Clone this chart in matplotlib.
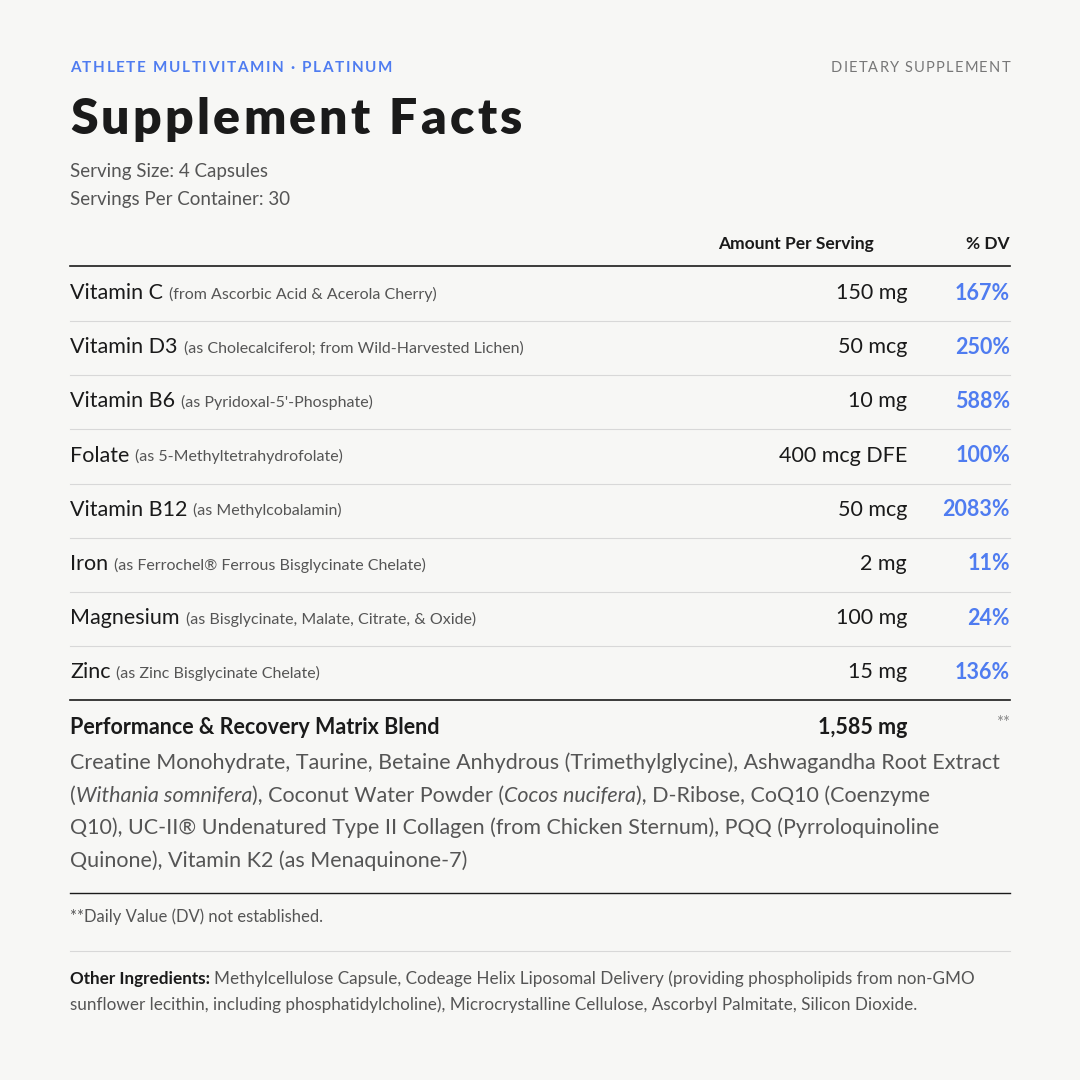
import matplotlib
matplotlib.use("Agg")
import matplotlib.pyplot as plt
from matplotlib.lines import Line2D

names = ["Vitamin C", "Vitamin D3", "Vitamin B6", "Folate", "Vitamin B12", "Iron", "Magnesium", "Zinc"]
sources = ["(from Ascorbic Acid & Acerola Cherry)", "(as Cholecalciferol; from Wild-Harvested Lichen)",
           "(as Pyridoxal-5'-Phosphate)", "(as 5-Methyltetrahydrofolate)", "(as Methylcobalamin)",
           "(as Ferrochel® Ferrous Bisglycinate Chelate)", "(as Bisglycinate, Malate, Citrate, & Oxide)",
           "(as Zinc Bisglycinate Chelate)"]
amounts = ["150 mg", "50 mcg", "10 mg", "400 mcg DFE", "50 mcg", "2 mg", "100 mg", "15 mg"]
dv = ["167%", "250%", "588%", "100%", "2083%", "11%", "24%", "136%"]
blend_name = "Performance & Recovery Matrix Blend"
blend_amount = "1,585 mg"
blend_lines = [
    [("Creatine Monohydrate, Taurine, Betaine Anhydrous (Trimethylglycine), Ashwagandha Root Extract", "normal")],
    [("(", "normal"), ("Withania somnifera", "italic"), ("), Coconut Water Powder (", "normal"), ("Cocos nucifera", "italic"), ("), D-Ribose, CoQ10 (Coenzyme", "normal")],
    [("Q10), UC-II® Undenatured Type II Collagen (from Chicken Sternum), PQQ (Pyrroloquinoline", "normal")],
    [("Quinone), Vitamin K2 (as Menaquinone-7)", "normal")],
]

BG = "#f7f7f5"; DARK = "#1a1a1a"; GRAY = "#555555"; BLUE = "#4f7cf0"; LINE = "#d8d8d8"
FONT = "Lato"
W = H = 1080
fig = plt.figure(figsize=(10.8, 10.8), dpi=100, facecolor=BG)
r = fig.canvas.get_renderer()
L, R = 70, 1010

def T(x, y, s, **kw):
    kw.setdefault("family", FONT)
    return fig.text(x / W, 1 - y / H, s, va="center", **kw)

def hline(y, c, lw):
    fig.add_artist(Line2D([L / W, R / W], [1 - y / H] * 2, color=c, lw=lw))

def seq(x, y, parts, gap=0, **kw):
    for s, style in parts:
        t = T(x, y, s, style=style, **kw)
        x = t.get_window_extent(r).x1 + gap
    return x

def tracked(x, y, s, track, right=False, **kw):
    # measure total width first
    ws = []
    for ch in s:
        t = T(0, y, ch if ch != " " else "\u00a0", **kw)
        ws.append(t.get_window_extent(r).width if ch != " " else kw.get("fontsize", 10) * 0.35)
        t.remove()
    total = sum(ws) + track * (len(s) - 1)
    if right:
        x = x - total
    for ch, w in zip(s, ws):
        if ch != " ":
            T(x, y, ch, **kw)
        x += w + track

tracked(L, 68, "ATHLETE MULTIVITAMIN · PLATINUM", 1.6, color=BLUE, fontsize=11, weight="bold")
tracked(R, 68, "DIETARY SUPPLEMENT", 1.2, right=True, color="#777777", fontsize=10.5)
tracked(L, 119, "Supplement Facts", 3.2, color=DARK, fontsize=36, weight="heavy")
T(L, 172, "Serving Size: 4 Capsules", color=GRAY, fontsize=13.5)
T(L, 199, "Servings Per Container: 30", color=GRAY, fontsize=13.5)
T(874, 244, "Amount Per Serving", color=DARK, fontsize=12.5, weight="bold", ha="right")
T(R, 244, "% DV", color=DARK, fontsize=12.5, weight="bold", ha="right")
hline(266, DARK, 1.2)

y0, dy = 293, 54.2
for i in range(len(names)):
    y = y0 + i * dy
    t = T(L, y, names[i], color=DARK, fontsize=15.5)
    x1 = t.get_window_extent(r).x1
    T(x1 + 6, y + 1, sources[i], color=GRAY, fontsize=11.5)
    T(907, y, amounts[i], color=DARK, fontsize=15.5, ha="right")
    T(R, y, dv[i], color=BLUE, fontsize=15.5, weight="bold", ha="right")
    last = i == len(names) - 1
    hline(y + 28, DARK if last else LINE, 1.2 if last else 0.8)

T(L, 727, blend_name, color=DARK, fontsize=15.5, weight="bold")
T(907, 727, blend_amount, color=DARK, fontsize=15.5, weight="bold", ha="right")
T(R, 723, "**", color="#888888", fontsize=12, ha="right")
for j, parts in enumerate(blend_lines):
    seq(L, 763 + j * 32.5, parts, color=GRAY, fontsize=15.5)
hline(893, DARK, 1.0)
T(L, 917, "**Daily Value (DV) not established.", color=GRAY, fontsize=12)
hline(951, LINE, 0.8)
x = seq(L, 979, [("Other Ingredients:", "normal")], color=DARK, fontsize=12.3, weight="bold")
T(x + 4, 979, "Methylcellulose Capsule, Codeage Helix Liposomal Delivery (providing phospholipids from non-GMO",
  color=GRAY, fontsize=12.3)
T(L, 1005, "sunflower lecithin, including phosphatidylcholine), Microcrystalline Cellulose, Ascorbyl Palmitate, Silicon Dioxide.",
  color=GRAY, fontsize=12.3)

fig.savefig("out.png", dpi=100, facecolor=BG)
